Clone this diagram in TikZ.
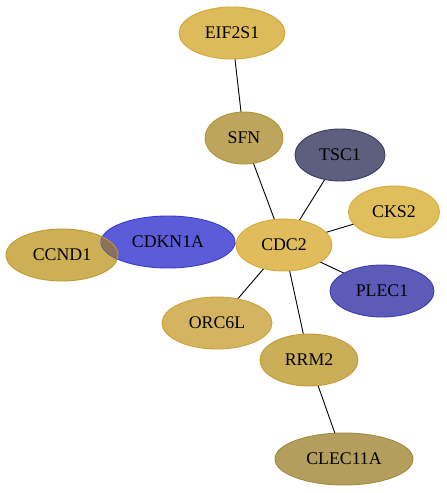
\documentclass[tikz,border=0pt]{standalone}
\usepackage{fontspec}
\setmainfont{Liberation Serif}
\usetikzlibrary{shapes.geometric}
\definecolor{cEIF}{HTML}{DDBA5A}\definecolor{sEIF}{HTML}{D2A838}
\definecolor{cSFN}{HTML}{BEA55E}\definecolor{sSFN}{HTML}{B39533}
\definecolor{cTSC}{HTML}{5E5E7E}\definecolor{sTSC}{HTML}{3A3A62}
\definecolor{cCKS}{HTML}{E0BE5C}\definecolor{sCKS}{HTML}{D4AA38}
\definecolor{cCDK}{HTML}{5C5CD8}\definecolor{sCDK}{HTML}{3A3AD0}
\definecolor{cCCN}{HTML}{CDAF55}\definecolor{sCCN}{HTML}{C09A30}
\definecolor{cMIX}{HTML}{8C7258}
\definecolor{cCDC}{HTML}{E0BC5C}\definecolor{sCDC}{HTML}{D4A838}
\definecolor{cPLE}{HTML}{5C5CB8}\definecolor{sPLE}{HTML}{3C3CB0}
\definecolor{cORC}{HTML}{D4B460}\definecolor{sORC}{HTML}{CCA23A}
\definecolor{cRRM}{HTML}{CBAE58}\definecolor{sRRM}{HTML}{C09C34}
\definecolor{cCLE}{HTML}{B39E5E}\definecolor{sCLE}{HTML}{A08838}
\tikzset{
  gene/.style={ellipse, inner sep=0pt, line width=0.9pt, minimum height=52pt,
    font=\fontsize{17.8}{20}\selectfont},
  link/.style={line width=0.9pt, black},
}
\begin{document}
\begin{tikzpicture}[x=1pt,y=-1pt]
\useasboundingbox (0,0) rectangle (447,493);
\path
 (232,33) coordinate (pEIF)
 (244,138) coordinate (pSFN)
 (340,155) coordinate (pTSC)
 (394,212) coordinate (pCKS)
 (168,242) coordinate (pCDK)
 (62,255) coordinate (pCCN)
 (284,245) coordinate (pCDC)
 (382,291) coordinate (pPLE)
 (217,323) coordinate (pORC)
 (309,360) coordinate (pRRM)
 (344,459) coordinate (pCLE);
\draw[link] (pEIF) -- (pSFN);
\draw[link] (pSFN) -- (pCDC);
\draw[link] (pTSC) -- (pCDC);
\draw[link] (pCKS) -- (pCDC);
\draw[link] (pPLE) -- (pCDC);
\draw[link] (pORC) -- (pCDC);
\draw[link] (pRRM) -- (pCDC);
\draw[link] (pRRM) -- (pCLE);
\draw[link] (pCDK) -- (pCDC);
\node[gene, fill=cEIF, draw=sEIF, minimum width=106pt] (EIF) at (pEIF) {EIF2S1};
\node[gene, fill=cSFN, draw=sSFN, minimum width=78pt] (SFN) at (pSFN) {SFN};
\node[gene, fill=cTSC, draw=sTSC, minimum width=90pt] (TSC) at (pTSC) {TSC1};
\node[gene, fill=cCKS, draw=sCKS, minimum width=91pt] (CKS) at (pCKS) {CKS2};
\node[gene, fill=cCCN, draw=sCCN, minimum width=112pt] (CCN) at (pCCN) {CCND1};
\node[gene, fill=cCDK, draw=sCDK, minimum width=134pt] (CDK) at (pCDK) {CDKN1A};
\begin{scope}
  \clip (pCDK) ellipse [x radius=67, y radius=26];
  \fill[cMIX] (pCCN) ellipse [x radius=56, y radius=26];
  \draw[sCCN, line width=0.9pt] (pCCN) ellipse [x radius=56, y radius=26];
\end{scope}
\node[gene, fill=cCDC, draw=sCDC, minimum width=96pt] (CDC) at (pCDC) {CDC2};
\node[gene, fill=cPLE, draw=sPLE, minimum width=104pt] (PLE) at (pPLE) {PLEC1};
\node[gene, fill=cORC, draw=sORC, minimum width=110pt] (ORC) at (pORC) {ORC6L};
\node[gene, fill=cRRM, draw=sRRM, minimum width=98pt] (RRM) at (pRRM) {RRM2};
\node[gene, fill=cCLE, draw=sCLE, minimum width=138pt] (CLE) at (pCLE) {CLEC11A};
\end{tikzpicture}
\end{document}
